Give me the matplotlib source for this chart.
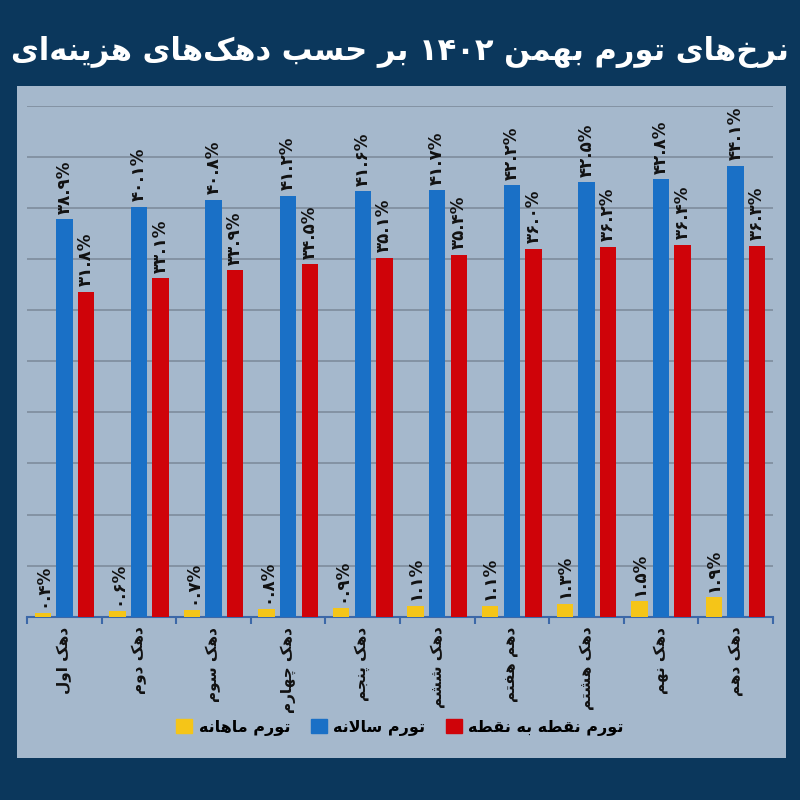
import numpy as np
import matplotlib
matplotlib.use("Agg")
import matplotlib.pyplot as plt
from matplotlib.patches import Patch
import re


# Data ........................................................................

deciles = ["دهک اول", "دهک دوم", "دهک سوم", "دهک چهارم", "دهک پنجم",
           "دهک ششم", "دهم هفتم", "دهک هشتم", "دهک نهم", "دهک دهم"]
monthly = [0.4, 0.6, 0.7, 0.8, 0.9, 1.1, 1.1, 1.3, 1.5, 1.9]
annual = [38.9, 40.1, 40.8, 41.2, 41.6, 41.7, 42.2, 42.5, 42.8, 44.1]
point = [31.8, 33.1, 33.9, 34.5, 35.1, 35.4, 36.0, 36.2, 36.4, 36.3]

title = "نرخ\u200cهای تورم بهمن ۱۴۰۲ بر حسب دهک\u200cهای هزینه\u200cای"
legend_labels = ["تورم ماهانه", "تورم سالانه", "تورم نقطه به نقطه"]

colors = ["#f5c518", "#1a70c6", "#cf0309"]


# Minimal Persian shaping (matplotlib has no bidi / joining) ..................

# char: (isolated, final, initial, medial); None = right-joining only
FORMS = {
    "ا": ("\uFE8D", "\uFE8E", None, None),
    "آ": ("\uFE81", "\uFE82", None, None),
    "ب": ("\uFE8F", "\uFE90", "\uFE91", "\uFE92"),
    "پ": ("\uFB56", "\uFB57", "\uFB58", "\uFB59"),
    "ت": ("\uFE95", "\uFE96", "\uFE97", "\uFE98"),
    "ث": ("\uFE99", "\uFE9A", "\uFE9B", "\uFE9C"),
    "ج": ("\uFE9D", "\uFE9E", "\uFE9F", "\uFEA0"),
    "چ": ("\uFB7A", "\uFB7B", "\uFB7C", "\uFB7D"),
    "ح": ("\uFEA1", "\uFEA2", "\uFEA3", "\uFEA4"),
    "خ": ("\uFEA5", "\uFEA6", "\uFEA7", "\uFEA8"),
    "د": ("\uFEA9", "\uFEAA", None, None),
    "ذ": ("\uFEAB", "\uFEAC", None, None),
    "ر": ("\uFEAD", "\uFEAE", None, None),
    "ز": ("\uFEAF", "\uFEB0", None, None),
    "ژ": ("\uFB8A", "\uFB8B", None, None),
    "س": ("\uFEB1", "\uFEB2", "\uFEB3", "\uFEB4"),
    "ش": ("\uFEB5", "\uFEB6", "\uFEB7", "\uFEB8"),
    "ص": ("\uFEB9", "\uFEBA", "\uFEBB", "\uFEBC"),
    "ض": ("\uFEBD", "\uFEBE", "\uFEBF", "\uFEC0"),
    "ط": ("\uFEC1", "\uFEC2", "\uFEC3", "\uFEC4"),
    "ظ": ("\uFEC5", "\uFEC6", "\uFEC7", "\uFEC8"),
    "ع": ("\uFEC9", "\uFECA", "\uFECB", "\uFECC"),
    "غ": ("\uFECD", "\uFECE", "\uFECF", "\uFED0"),
    "ف": ("\uFED1", "\uFED2", "\uFED3", "\uFED4"),
    "ق": ("\uFED5", "\uFED6", "\uFED7", "\uFED8"),
    "ک": ("\uFB8E", "\uFB8F", "\uFB90", "\uFB91"),
    "گ": ("\uFB92", "\uFB93", "\uFB94", "\uFB95"),
    "ل": ("\uFEDD", "\uFEDE", "\uFEDF", "\uFEE0"),
    "م": ("\uFEE1", "\uFEE2", "\uFEE3", "\uFEE4"),
    "ن": ("\uFEE5", "\uFEE6", "\uFEE7", "\uFEE8"),
    "ه": ("\uFEE9", "\uFEEA", "\uFEEB", "\uFEEC"),
    "و": ("\uFEED", "\uFEEE", None, None),
    "ی": ("\uFBFC", "\uFBFD", "\uFBFE", "\uFBFF"),
}


def dual(c):
    return c in FORMS and FORMS[c][2] is not None


def shape(text):
    out = []
    chars = list(text)
    i = 0
    while i < len(chars):
        c = chars[i]
        prev = chars[i - 1] if i > 0 else ""
        join_prev = dual(prev) and c in FORMS
        if c == "ل" and i + 1 < len(chars) and chars[i + 1] == "ا":
            out.append("\uFEFC" if join_prev else "\uFEFB")
            i += 2
            continue
        if c not in FORMS:
            if c != "\u200c":
                out.append(c)
            i += 1
            continue
        nxt = chars[i + 1] if i + 1 < len(chars) else ""
        join_next = dual(c) and nxt in FORMS
        iso, fin, ini, med = FORMS[c]
        if join_prev and join_next:
            out.append(med)
        elif join_prev:
            out.append(fin)
        elif join_next:
            out.append(ini)
        else:
            out.append(iso)
        i += 1
    vis = "".join(out)[::-1]
    # keep digit runs left-to-right
    return re.sub(r"[۰-۹0-9.%]+", lambda m: m.group(0)[::-1], vis)


def fa_num(v):
    s = f"{v:.1f}%"
    return s.translate(str.maketrans("0123456789", "۰۱۲۳۴۵۶۷۸۹"))


# Plot ........................................................................

plt.rcParams["font.family"] = ["DejaVu Sans"]

fig = plt.figure(figsize=(8, 8), dpi=100)
fig.patch.set_facecolor("#0b375c")

# light panel behind the chart
panel = fig.add_axes([0.021, 0.053, 0.961, 0.839], zorder=0)
panel.set_facecolor("#a5b8cc")
panel.set_xticks([])
panel.set_yticks([])
for s in panel.spines.values():
    s.set_visible(False)

ax = fig.add_axes([0.034, 0.229, 0.932, 0.639], zorder=1)
ax.set_facecolor("none")

x = np.arange(len(deciles))
w = 0.22
step = 0.29
series = [monthly, annual, point]
for k, vals in enumerate(series):
    xs = x + (k - 1) * step
    ax.bar(xs, vals, width=w, color=colors[k], zorder=3)
    for xi, v in zip(xs, vals):
        ax.annotate(fa_num(v), (xi, v), xytext=(0, 4), textcoords="offset points",
                    rotation=90, ha="center", va="bottom", fontsize=12,
                    fontweight="bold", color="#111111", zorder=4)

ax.set_xlim(-0.5, len(deciles) - 0.5)
ax.set_ylim(0, 50)
ax.set_yticks(np.arange(0, 51, 5))
ax.yaxis.grid(True, color="#7b8898", linewidth=1.1, zorder=1)
ax.tick_params(axis="y", length=0, labelleft=False)

ax.set_xticks(x)
ax.set_xticklabels([shape(d) for d in deciles], rotation=90, fontsize=11,
                   fontweight="bold", color="#111111")
ax.set_xticks(np.arange(-0.5, len(deciles), 1), minor=True)
ax.tick_params(axis="x", which="major", length=0, pad=7)
ax.tick_params(axis="x", which="minor", length=5, width=1.5, color="#3c68a8")

for s in ["top", "right", "left"]:
    ax.spines[s].set_visible(False)
ax.spines["bottom"].set_color("#3c68a8")
ax.spines["bottom"].set_linewidth(1.5)

handles = [Patch(color=colors[k]) for k in range(3)]
leg = fig.legend(handles, [shape(l) for l in legend_labels], loc="center",
                 bbox_to_anchor=(0.5, 0.091), ncol=3, frameon=False,
                 prop={"weight": "bold", "size": 11.5}, handlelength=1.0,
                 handleheight=1.0, handletextpad=0.4, columnspacing=1.3)
leg.set_zorder(5)

fig.text(0.5, 0.935, shape(title), ha="center", va="center", fontsize=22,
         fontweight="bold", color="white")

fig.savefig("out.png", dpi=100, facecolor=fig.get_facecolor())
